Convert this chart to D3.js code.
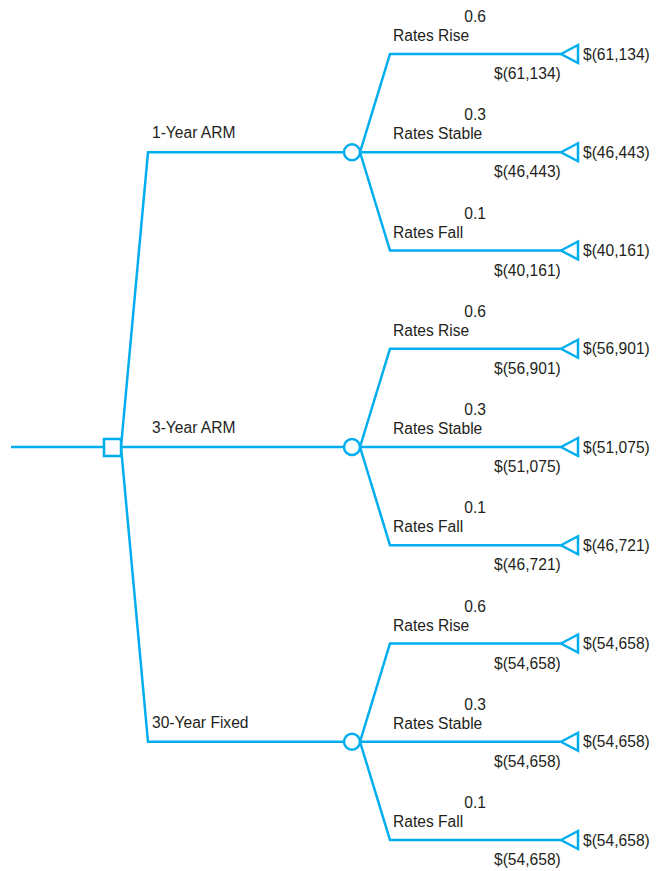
<!DOCTYPE html>
<html><head><meta charset="utf-8">
<script src="https://cdn.jsdelivr.net/npm/d3@7"></script>
<style>body{margin:0;background:#fff}svg{display:block}text{font-family:"Liberation Sans",Arial,Helvetica,sans-serif;font-size:15.6px;fill:#231f20}</style>
</head><body><svg id="c" width="657" height="871"></svg>
<script>
const decisions = ["1-Year ARM", "3-Year ARM", "30-Year Fixed"];
const outcomes = ["Rates Rise", "Rates Stable", "Rates Fall"];
const probabilities = ["0.6", "0.3", "0.1"];
const payoffs = [
  ["$(61,134)", "$(46,443)", "$(40,161)"],
  ["$(56,901)", "$(51,075)", "$(46,721)"],
  ["$(54,658)", "$(54,658)", "$(54,658)"]
];

const color = "#00aeef";
const svg = d3.select("#c");
// vertical position of each terminal leaf (0..8)
const leafIdx = d3.range(decisions.length * outcomes.length);
const y = d3.scalePoint().domain(leafIdx).range([54, 840]);
// horizontal levels
const x = d3.scaleOrdinal()
  .domain(["start","dec","decOut","branch","chance","chanceOut","outcome","leaf","leafEnd","label"])
  .range([11, 112, 148, 121, 352, 360, 390, 561, 578, 583]);

const lw = 2.5;
const g = svg.append("g").attr("fill","none").attr("stroke",color).attr("stroke-width",lw);
const rootY = y(4);

// root line
g.append("line").attr("x1",x("start")).attr("x2",x("dec")-8).attr("y1",rootY).attr("y2",rootY);

decisions.forEach((d,i)=>{
  const cy = y(i*3+1);
  // decision branch
  g.append("path").attr("d", d3.line()([[x("branch"),rootY],[x("decOut"),cy],[x("chance")-8,cy]]));
  svg.append("text").attr("x",152).attr("y",cy-14).text(d);
  outcomes.forEach((o,j)=>{
    const ly = y(i*3+j);
    g.append("path").attr("d", d3.line()([[x("chanceOut"),cy],[x("outcome"),ly],[x("leaf"),ly]]));
    g.append("path").attr("fill","#fff")
      .attr("d", d3.line()([[x("leaf"),ly],[x("leafEnd"),ly-9],[x("leafEnd"),ly+9]]) + "Z");
    svg.append("text").attr("x",486).attr("y",ly-32).attr("text-anchor","end").text(probabilities[j]);
    svg.append("text").attr("x",393).attr("y",ly-13).text(o);
    svg.append("text").attr("x",494).attr("y",ly+25).text(payoffs[i][j]);
    svg.append("text").attr("x",x("label")).attr("y",ly+5.5).text(payoffs[i][j]);
  });
  g.append("circle").attr("cx",x("chance")).attr("cy",cy).attr("r",8).attr("fill","#fff");
});
// decision square
g.append("rect").attr("x",x("dec")-8).attr("y",rootY-8).attr("width",17).attr("height",17).attr("fill","#fff");
</script></body></html>
